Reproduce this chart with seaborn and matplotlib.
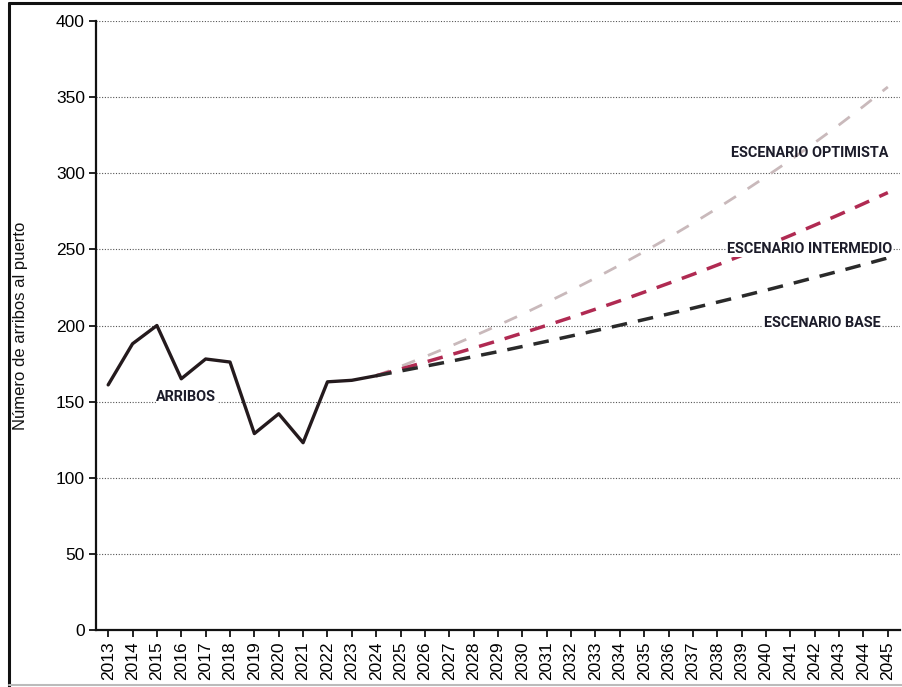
import matplotlib
matplotlib.use("Agg")
import matplotlib.pyplot as plt
from matplotlib.lines import Line2D
import seaborn as sns
import pandas as pd

# ---- data ----
hist_years = list(range(2013, 2025))
arribos = [161, 188, 200, 165, 178, 176, 129, 142, 123, 163, 164, 167]

proj_years = list(range(2024, 2046))
esc_base = [167, 170.1, 173.2, 176.3, 179.6, 182.8, 186.2, 189.6, 193.1, 196.6, 200.2,
            203.9, 207.6, 211.4, 215.3, 219.2, 223.2, 227.3, 231.5, 235.7, 240.0, 244.4]
esc_intermedio = [167, 171.4, 175.9, 180.5, 185.2, 190.0, 195.0, 200.1, 205.3, 210.7, 216.2,
                  221.9, 227.7, 233.6, 239.7, 246.0, 252.5, 259.1, 265.9, 272.8, 280.0, 287.3]
esc_optimista = [167, 173.1, 179.5, 186.1, 193.0, 200.1, 207.4, 215.1, 223.0, 231.2, 239.7,
                 248.5, 257.7, 267.2, 277.0, 287.2, 297.8, 308.7, 320.1, 331.8, 344.0, 356.7]

x_ticks = list(range(2013, 2046))
y_ticks = [0, 50, 100, 150, 200, 250, 300, 350, 400]

sns.set_theme(style="white")
plt.rcParams['font.family'] = ['Liberation Sans', 'DejaVu Sans']

fig = plt.figure(figsize=(9.03, 6.87), dpi=100)
ax = fig.add_axes([0.1063, 0.0830, 0.8904, 0.8864])

df_hist = pd.DataFrame({"year": hist_years, "value": arribos})
df_base = pd.DataFrame({"year": proj_years, "value": esc_base})
df_int = pd.DataFrame({"year": proj_years, "value": esc_intermedio})
df_opt = pd.DataFrame({"year": proj_years, "value": esc_optimista})

for y in y_ticks[1:]:
    ax.axhline(y, color="#555555", lw=0.8, ls=(0, (1, 1.5)), zorder=0)

sns.lineplot(data=df_opt, x="year", y="value", ax=ax, color="#c9b9bb", lw=2.0,
             zorder=2).lines[-1].set_dashes([5, 5])
sns.lineplot(data=df_int, x="year", y="value", ax=ax, color="#b02a52", lw=2.5,
             zorder=3).lines[-1].set_dashes([4.5, 3.2])
sns.lineplot(data=df_base, x="year", y="value", ax=ax, color="#2a2a2a", lw=2.5,
             zorder=4).lines[-1].set_dashes([4.5, 3.2])
sns.lineplot(data=df_hist, x="year", y="value", ax=ax, color="#241a1d", lw=2.4,
             zorder=5)

ax.set_xlim(2012.5, 2045.5)
ax.set_ylim(0, 400)
ax.set_xticks(x_ticks)
ax.set_xticklabels([str(v) for v in x_ticks], rotation=90, fontsize=12.5, color="#000000")
ax.set_yticks(y_ticks)
ax.set_yticklabels([str(v) for v in y_ticks], fontsize=12.5, color="#000000")
ax.set_xlabel("")
ax.set_ylabel("Número de arribos al puerto", fontsize=12, color="#111111")
ax.yaxis.set_label_coords(-0.084, 0.5)

for s in ["top", "right"]:
    ax.spines[s].set_visible(False)
for s in ["left", "bottom"]:
    ax.spines[s].set_color("#111111")
    ax.spines[s].set_linewidth(1.6)
ax.tick_params(axis="both", direction="out", length=5, width=1.3, color="#111111",
               bottom=True, left=True, pad=3)

lab_kw = dict(fontsize=10.4, fontweight="bold", color="#1c1c2a", family=["Roboto", "DejaVu Sans"])
ax.text(2041.8, 313, "ESCENARIO OPTIMISTA", ha="center", va="center", **lab_kw)
ax.text(2041.8, 250, "ESCENARIO INTERMEDIO", ha="center", va="center",
        bbox=dict(facecolor="white", edgecolor="none", pad=0.5), zorder=6, **lab_kw)
ax.text(2042.3, 201.5, "ESCENARIO BASE", ha="center", va="center",
        bbox=dict(facecolor="white", edgecolor="none", pad=0.5), zorder=6, **lab_kw)
ax.text(2016.2, 153, "ARRIBOS", ha="center", va="center",
        bbox=dict(facecolor="white", edgecolor="none", pad=0.3), zorder=6, **lab_kw)

# page frame
fig.add_artist(Line2D([9/903, 9/903], [0, 1 - 3/687], color="#111111", lw=2.2))
fig.add_artist(Line2D([9/903, 1], [1 - 3/687, 1 - 3/687], color="#111111", lw=2.2))
fig.add_artist(Line2D([9/903, 1], [1 - 685/687, 1 - 685/687], color="#bbbbbb", lw=1.5))

fig.savefig("out.png", dpi=100)
